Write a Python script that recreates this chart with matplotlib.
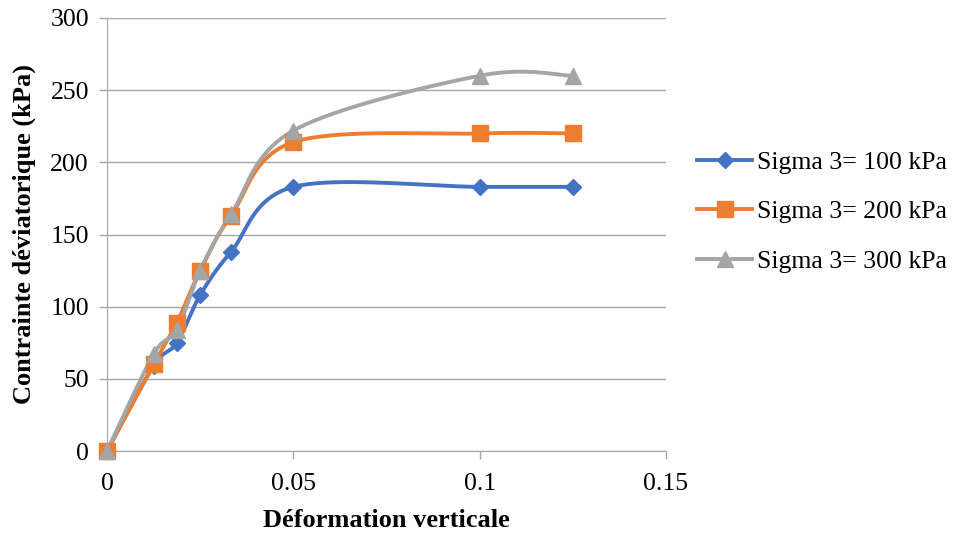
import numpy as np
import matplotlib
matplotlib.use("Agg")
import matplotlib.pyplot as plt

plt.rcParams['font.family'] = ['Liberation Serif', 'DejaVu Serif']

strain = [0, 0.0125, 0.01875, 0.025, 0.0333, 0.05, 0.1, 0.125]
sigma100 = [0, 59, 75, 108, 138, 183, 183, 183]
sigma200 = [0, 60, 89, 125, 163, 214, 220, 220]
sigma300 = [0, 67, 84, 125, 164, 222, 260, 260]

labels = ["Sigma 3= 100 kPa", "Sigma 3= 200 kPa", "Sigma 3= 300 kPa"]
colors = ["#4472C4", "#ED7D31", "#A5A5A5"]
markers = ["D", "s", "^"]
msizes = [8, 11, 11]


def smooth(x, y, n=40):
    """Cubic Bezier smoothing through all points (Catmull-Rom style)."""
    x = np.asarray(x, float)
    y = np.asarray(y, float)
    px = np.concatenate([[x[0]], x, [x[-1]]])
    py = np.concatenate([[y[0]], y, [y[-1]]])
    xs, ys = [], []
    t = np.linspace(0, 1, n)
    for i in range(len(x) - 1):
        p0 = np.array([px[i + 1], py[i + 1]])
        p3 = np.array([px[i + 2], py[i + 2]])
        c1 = p0 + (np.array([px[i + 2], py[i + 2]]) - np.array([px[i], py[i]])) / 6
        c2 = p3 - (np.array([px[i + 3], py[i + 3]]) - np.array([px[i + 1], py[i + 1]])) / 6
        b = ((1 - t) ** 3)[:, None] * p0 + (3 * (1 - t) ** 2 * t)[:, None] * c1 \
            + (3 * (1 - t) * t ** 2)[:, None] * c2 + (t ** 3)[:, None] * p3
        xs.append(b[:, 0])
        ys.append(b[:, 1])
    return np.concatenate(xs), np.concatenate(ys)


fig = plt.figure(figsize=(9.6, 5.37), dpi=100)
ax = fig.add_axes([107 / 960, 1 - 451 / 537, (666 - 107) / 960, (451 - 18) / 537])

for ys, lab, c, m, ms in zip([sigma100, sigma200, sigma300], labels, colors, markers, msizes):
    sx, sy = smooth(strain, ys)
    ax.plot(sx, sy, color=c, lw=2.8, zorder=3, clip_on=False)
    ax.plot(strain, ys, linestyle='none', marker=m, color=c, markersize=ms, zorder=4, clip_on=False)
    ax.plot([], [], color=c, lw=2.8, marker=m, markersize=ms, label=lab)

ax.set_xlim(0, 0.15)
ax.set_ylim(0, 300)
ax.set_xticks([0, 0.05, 0.1, 0.15])
ax.set_xticklabels(["0", "0.05", "0.1", "0.15"])
ax.set_yticks(range(0, 301, 50))
ax.yaxis.grid(True, color="#A6A6A6", lw=1.0)
ax.set_axisbelow(True)
for s in ["top", "right"]:
    ax.spines[s].set_visible(False)
for s in ["left", "bottom"]:
    ax.spines[s].set_color("#A6A6A6")
ax.tick_params(axis='both', colors="#A6A6A6", labelcolor="black", labelsize=18.5, length=6, width=1)
ax.tick_params(axis='y', pad=7)
ax.tick_params(axis='x', pad=10)

ax.set_xlabel("Déformation verticale", fontsize=19, fontweight='bold', labelpad=10)
ax.set_ylabel("Contrainte déviatorique (kPa)", fontsize=19, fontweight='bold', labelpad=10)

leg = ax.legend(loc='center left', bbox_to_anchor=(1.0555, 0.552), frameon=False, fontsize=18.5,
                handlelength=2.15, labelspacing=1.02, handletextpad=0.2,
                borderaxespad=0, borderpad=0)

fig.savefig("out.png", dpi=100)
